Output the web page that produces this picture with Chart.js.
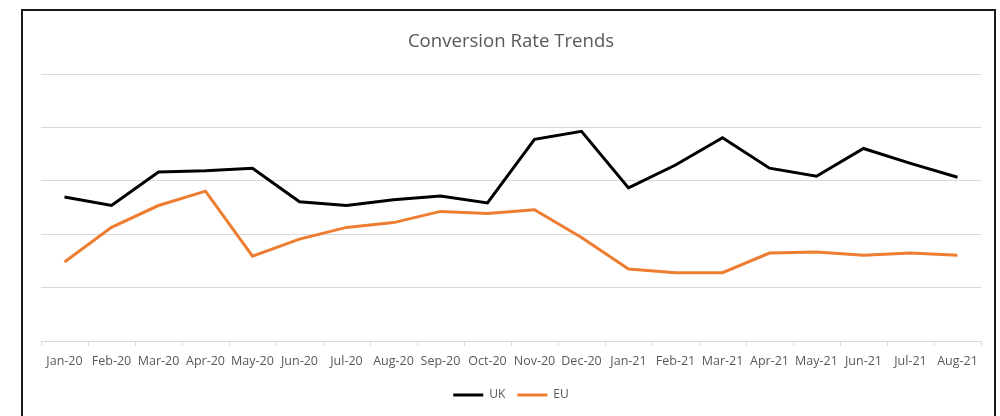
<!DOCTYPE html>
<html>
<head>
<meta charset="utf-8">
<script src="https://cdn.jsdelivr.net/npm/chart.js@4"></script>
<style>
  html, body { margin: 0; padding: 0; background: #fff; overflow: hidden; }
  .wrap { position: relative; width: 1000px; height: 416px; }
  .frame { position: absolute; left: 21px; top: 9px; width: 975px; height: 420px; border: 2px solid #1a1a1a; box-sizing: border-box; pointer-events: none; }
  canvas { position: absolute; left: 0; top: 0; }
</style>
</head>
<body>
<div class="wrap">
  <canvas id="chart" width="1000" height="416"></canvas>
  <div class="frame"></div>
</div>
<script>
const months = ["Jan-20", "Feb-20", "Mar-20", "Apr-20", "May-20", "Jun-20", "Jul-20", "Aug-20", "Sep-20", "Oct-20",
  "Nov-20", "Dec-20", "Jan-21", "Feb-21", "Mar-21", "Apr-21", "May-21", "Jun-21", "Jul-21", "Aug-21"];
const ukRate = [2.70, 2.54, 3.17, 3.19, 3.24, 2.61, 2.54, 2.65, 2.72, 2.59,
  3.78, 3.93, 2.87, 3.30, 3.81, 3.24, 3.09, 3.61, 3.33, 3.07];
const euRate = [1.48, 2.13, 2.54, 2.81, 1.59, 1.91, 2.13, 2.22, 2.43, 2.39,
  2.46, 1.94, 1.35, 1.28, 1.28, 1.65, 1.67, 1.61, 1.65, 1.61];

const grey = "#595959";
const font = "'Open Sans', 'Noto Sans', sans-serif";

new Chart(document.getElementById("chart"), {
  type: "line",
  data: {
    labels: months,
    datasets: [
      { label: "UK", data: ukRate, borderColor: "#000000", backgroundColor: "#000000", borderWidth: 3, pointRadius: 0, tension: 0 },
      { label: "EU", data: euRate, borderColor: "#ED7D31", backgroundColor: "#ED7D31", borderWidth: 3, pointRadius: 0, tension: 0 }
    ]
  },
  options: {
    responsive: false,
    animation: false,
    layout: { padding: { left: 41, right: 19, top: 31, bottom: 5 } },
    plugins: {
      title: {
        display: true,
        text: "Conversion Rate Trends",
        color: grey,
        font: { family: font, size: 18.6, weight: "normal" },
        padding: { top: 0, bottom: 21 }
      },
      legend: {
        position: "bottom",
        labels: {
          color: grey,
          font: { family: font, size: 12 },
          usePointStyle: true,
          pointStyle: "line",
          pointStyleWidth: 30,
          padding: 12
        }
      },
      tooltip: { enabled: false }
    },
    scales: {
      x: {
        offset: true,
        grid: { offset: true, drawOnChartArea: false, drawTicks: true, tickLength: 5, color: "#d9d9d9" },
        border: { color: "#d9d9d9" },
        ticks: { color: grey, font: { family: font, size: 12.5 }, maxRotation: 0, autoSkip: false, padding: 8 }
      },
      y: {
        min: 0,
        max: 5,
        ticks: { display: false, stepSize: 1 },
        grid: { color: "#d9d9d9", drawTicks: false },
        border: { display: false }
      }
    }
  }
});
</script>
</body>
</html>
